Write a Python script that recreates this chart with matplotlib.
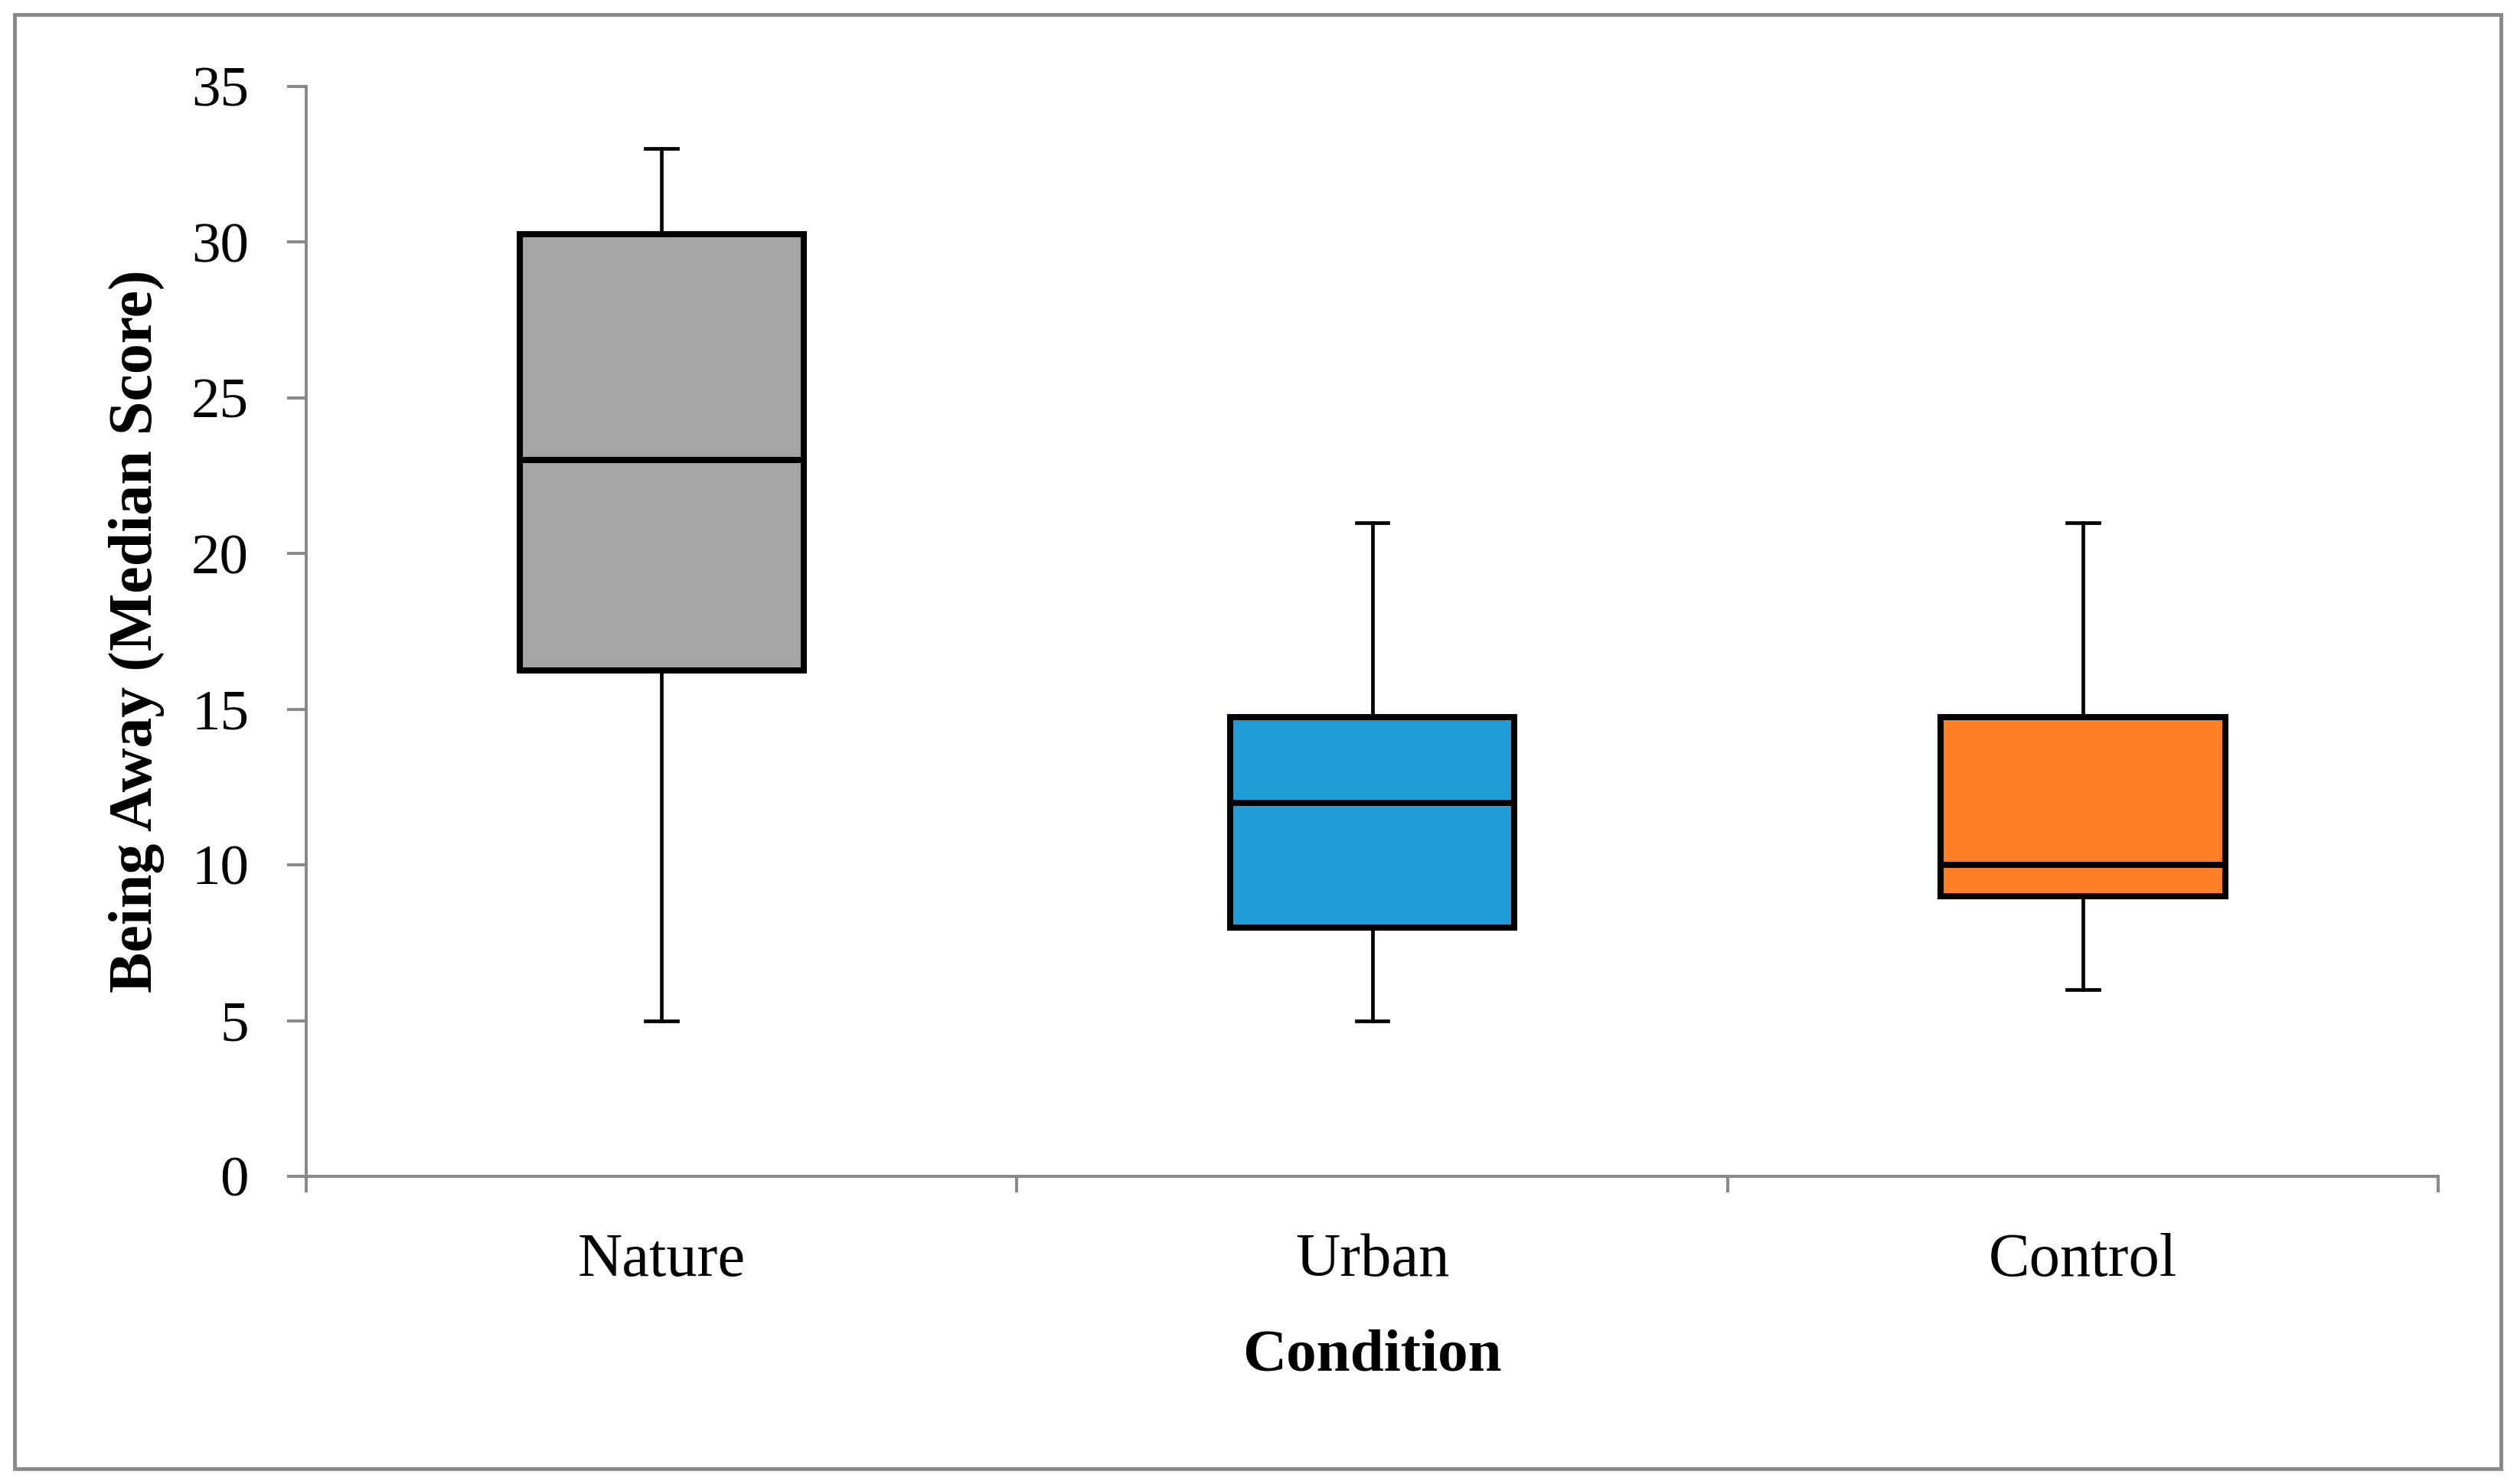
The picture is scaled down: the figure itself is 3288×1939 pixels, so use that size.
import matplotlib
matplotlib.use("Agg")
import matplotlib.pyplot as plt
from matplotlib.patches import Rectangle

# ---- data ----
conditions = ["Nature", "Urban", "Control"]
whisker_low = [5, 5, 6]
q1_values = [16.25, 8, 9]
medians = [23, 12, 10]
q3_values = [30.25, 14.75, 14.75]
whisker_high = [33, 21, 21]
box_colors = ["#A5A5A5", "#1E9DD8", "#FF7F27"]
y_ticks = [0, 5, 10, 15, 20, 25, 30, 35]

plt.rcParams['font.family'] = ['Liberation Serif', 'DejaVu Serif']

W, H, DPI = 3288, 1939, 100
fig = plt.figure(figsize=(W / DPI, H / DPI), dpi=DPI)

ax_l, ax_r = 400 / W, 3185 / W
ax_b, ax_t = (H - 1537) / H, (H - 113) / H
ax = fig.add_axes([ax_l, ax_b, ax_r - ax_l, ax_t - ax_b])

stats = []
for i, name in enumerate(conditions):
    stats.append(dict(label=name, whislo=whisker_low[i], q1=q1_values[i],
                      med=medians[i], q3=q3_values[i], whishi=whisker_high[i],
                      fliers=[]))

positions = list(range(1, len(conditions) + 1))
bp = ax.bxp(stats, positions=positions, widths=0.4, patch_artist=True,
            showfliers=False,
            boxprops=dict(linewidth=5.8, edgecolor="black"),
            medianprops=dict(linewidth=5.8, color="black", solid_capstyle="butt"),
            whiskerprops=dict(linewidth=3.4, color="black"),
            capprops=dict(linewidth=3.4, color="black"),
            capwidths=0.045)
for patch, c in zip(bp["boxes"], box_colors):
    patch.set_facecolor(c)
    patch.set_joinstyle("miter")

ax.set_xlim(0.5, len(conditions) + 0.5)
ax.set_ylim(0, 35)
ax.set_yticks(y_ticks)
ax.set_yticklabels([str(t) for t in y_ticks])

ax.set_xticks(positions)
ax.set_xticklabels(conditions)
ax.set_xticks([p + 0.5 for p in range(0, len(conditions) + 1)], minor=True)

spine_col = "#898989"
for s in ["top", "right"]:
    ax.spines[s].set_visible(False)
for s in ["left", "bottom"]:
    ax.spines[s].set_color(spine_col)
    ax.spines[s].set_linewidth(2.9)

ax.tick_params(axis="y", which="major", direction="out", length=18, width=2.9,
               color=spine_col, labelsize=54, pad=36, labelcolor="black")
ax.tick_params(axis="x", which="major", length=0, labelsize=58, pad=53,
               labelcolor="black")
ax.tick_params(axis="x", which="minor", direction="out", length=15, width=2.9,
               color=spine_col)

ax.set_xlabel("Condition", fontsize=57, fontweight="bold", va="center")
ax.xaxis.set_label_coords(0.5, -0.165)
ax.set_ylabel("Being Away (Median Score)", fontsize=57.5, fontweight="bold", va="center")
ax.yaxis.set_label_coords(-0.0797, 0.5)

# outer chart border
fig.patches.append(Rectangle((19 / W, 20 / H), (3267 - 19) / W, (1919 - 19) / H,
                             transform=fig.transFigure, fill=False,
                             edgecolor=spine_col, linewidth=3.5))

fig.savefig("out.png", dpi=DPI, facecolor="white")
